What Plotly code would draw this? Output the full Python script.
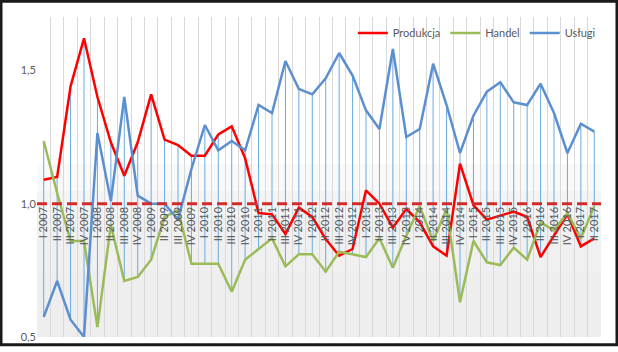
import plotly.graph_objects as go

categories = [f"{q} {y}" for y in range(2007, 2018) for q in ["I", "II", "III", "IV"]][:42]

produkcja = [1.09, 1.10, 1.44, 1.62,
             1.40, 1.23, 1.105, 1.23,
             1.41, 1.24, 1.22, 1.18,
             1.18, 1.26, 1.29, 1.17,
             0.965, 0.96, 0.886, 0.985,
             0.95, 0.867, 0.805, 0.83,
             1.05, 1.0, 0.91, 0.98,
             0.93, 0.84, 0.805, 1.15,
             0.995, 0.94, 0.955, 0.97,
             0.95, 0.80, 0.88, 0.96,
             0.84, 0.87]

handel = [1.235, 1.04, 0.86, 0.86,
          0.537, 0.92, 0.71, 0.725,
          0.79, 0.95, 0.975, 0.775,
          0.775, 0.775, 0.67, 0.79,
          0.83, 0.87, 0.765, 0.81,
          0.81, 0.745, 0.82, 0.81,
          0.80, 0.87, 0.76, 0.88,
          0.99, 0.86, 0.98, 0.63,
          0.86, 0.78, 0.77, 0.835,
          0.79, 0.93, 0.90, 0.965,
          0.87, 0.99]

uslugi = [0.575, 0.71, 0.565, 0.50,
          1.265, 1.01, 1.40, 1.03,
          1.0, 1.0, 0.94, 1.13,
          1.295, 1.20, 1.235, 1.20,
          1.37, 1.34, 1.535, 1.43,
          1.41, 1.47, 1.565, 1.48,
          1.35, 1.28, 1.58, 1.25,
          1.28, 1.525, 1.37, 1.19,
          1.33, 1.42, 1.455, 1.38,
          1.37, 1.45, 1.34, 1.19,
          1.30, 1.27]

reference_level = 1.0
y_ticks = [0.5, 1.0, 1.5]

# high-low lines (Excel style), computed from the series
hl_x, hl_y = [], []
for c, a, b, d in zip(categories, produkcja, handel, uslugi):
    vals = [a, b, d]
    hl_x += [c, c, None]
    hl_y += [min(vals), max(vals), None]

fig = go.Figure()
fig.add_trace(go.Scatter(x=hl_x, y=hl_y, mode="lines", showlegend=False,
                         line=dict(color="#6AAAE0", width=1), hoverinfo="skip"))
fig.add_trace(go.Scatter(x=categories, y=produkcja, mode="lines", name="Produkcja",
                         line=dict(color="#FF0000", width=2.5)))
fig.add_trace(go.Scatter(x=categories, y=handel, mode="lines", name="Handel",
                         line=dict(color="#9BBB59", width=2.5)))
fig.add_trace(go.Scatter(x=categories, y=uslugi, mode="lines", name="Usługi",
                         line=dict(color="#5B8FD0", width=2.5)))

L, R, T, B = 37, 17, 17, 9
W, H = 618, 352
pw, ph = W - L - R, H - T - B

shapes = []
# subtle grey shading toward bottom
bands = [(0.5, 0.75, "#eeeeee"), (0.75, 0.95, "#f0f0f0"), (0.95, 1.05, "#f4f4f4"), (1.05, 1.15, "#f9f9f9")]
for y0, y1, col in bands:
    shapes.append(dict(type="rect", xref="paper", yref="y", x0=0, x1=1, y0=y0, y1=y1,
                       fillcolor=col, line=dict(width=0), layer="below"))
# dashed reference line
shapes.append(dict(type="line", xref="paper", yref="y", x0=0, x1=1, y0=reference_level, y1=reference_level,
                   line=dict(color="#D42A2A", width=3, dash="10px,5px"), layer="above"))
# outer dark frame
shapes.append(dict(type="rect", xref="paper", yref="paper",
                   x0=-(L - 1) / pw, x1=1 + (R - 1) / pw, y0=-(B - 1) / ph, y1=1 + (T - 1) / ph,
                   line=dict(color="#1a1a1a", width=3), fillcolor="rgba(0,0,0,0)"))

fig.update_layout(
    width=W, height=H,
    margin=dict(l=L, r=R, t=T, b=B),
    paper_bgcolor="white", plot_bgcolor="white",
    separators=", ",
    font=dict(family="Lato, Liberation Sans, sans-serif", size=11, color="#595959"),
    shapes=shapes,
    showlegend=True,
    legend=dict(orientation="h", x=0.56, y=0.95, xanchor="left", yanchor="middle",
                bgcolor="rgba(0,0,0,0)", font=dict(size=11, color="#595959"),
                itemwidth=30),
    xaxis=dict(type="category", categoryorder="array", categoryarray=categories,
               tickson="boundaries", showgrid=True, gridcolor="#d9d9d9", gridwidth=1,
               anchor="free", position=(reference_level - 0.5) / 1.2,
               tickangle=-90, ticks="", showline=False, zeroline=False,
               tickfont=dict(size=11, color="#595959"),
               range=[-0.5, len(categories) - 0.5]),
    yaxis=dict(range=[0.5, 1.7], tickvals=y_ticks, ticktext=["0,5", "1,0", "1,5"],
               showgrid=False, zeroline=False, showline=False, ticks="",
               tickfont=dict(size=11, color="#595959")),
)

fig.write_html("out.html")
